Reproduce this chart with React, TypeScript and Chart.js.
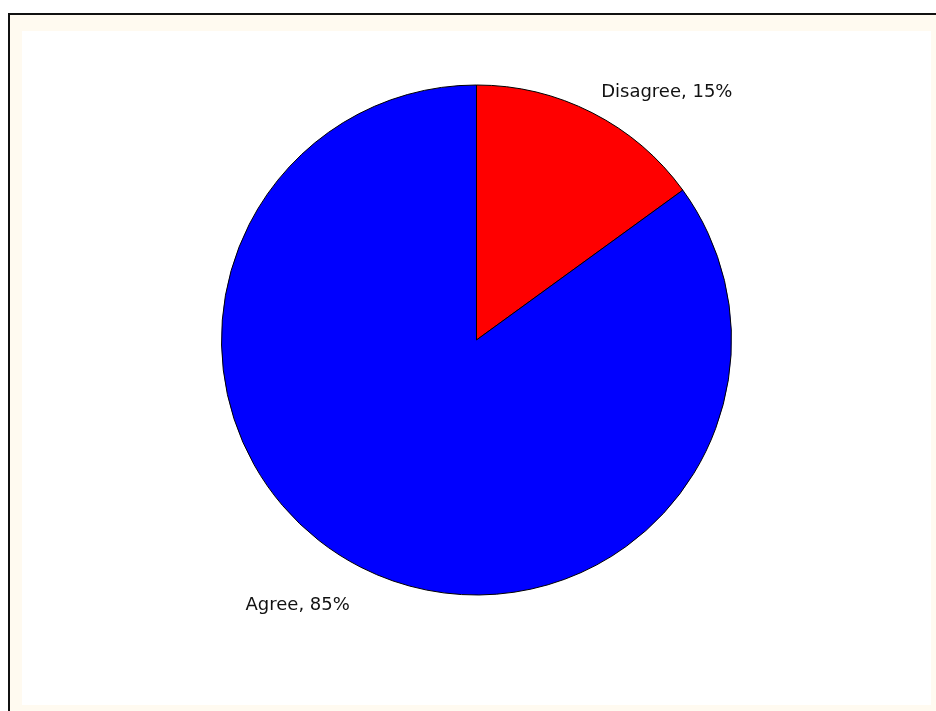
import React, { useEffect, useRef } from "react";
import { Chart, registerables } from "chart.js";

Chart.register(...registerables);

const categories = ["Disagree", "Agree"];
const values = [15, 85];
const sliceColors = ["#FF0000", "#0000FF"];

const labelPlugin = {
  id: "sliceLabels",
  afterDatasetsDraw(chart: any) {
    const ctx = chart.ctx;
    const meta = chart.getDatasetMeta(0);
    const total = values.reduce((a, b) => a + b, 0);
    ctx.save();
    ctx.font = "18px 'DejaVu Sans', Verdana, sans-serif";
    ctx.fillStyle = "#111111";
    ctx.textBaseline = "alphabetic";
    meta.data.forEach((arc: any, i: number) => {
      const { x, y, startAngle, endAngle, outerRadius } = arc.getProps(
        ["x", "y", "startAngle", "endAngle", "outerRadius"],
        true
      );
      const mid = (startAngle + endAngle) / 2;
      const r = outerRadius + 24;
      const ax = x + Math.cos(mid) * r;
      const ay = y + Math.sin(mid) * r;
      const pct = Math.round((values[i] / total) * 100);
      const text = `${categories[i]}, ${pct}%`;
      ctx.textAlign = ax >= x ? "left" : "right";
      const dy = ay < y ? 6 : 21;
      ctx.fillText(text, ax - (ax >= x ? 2 : 0), ay + dy);
    });
    ctx.restore();
  },
};

export default function App() {
  const canvasRef = useRef<HTMLCanvasElement | null>(null);

  useEffect(() => {
    if (!canvasRef.current) return;
    const chart = new Chart(canvasRef.current, {
      type: "pie",
      data: {
        labels: categories,
        datasets: [
          {
            data: values,
            backgroundColor: sliceColors,
            borderColor: "#000000",
            borderWidth: 1,
            radius: 255,
          } as any,
        ],
      },
      options: {
        animation: false,
        responsive: false,
        maintainAspectRatio: false,
        layout: { padding: { bottom: 56 } },
        plugins: {
          legend: { display: false },
          tooltip: { enabled: false },
        },
      },
      plugins: [labelPlugin],
    });
    return () => chart.destroy();
  }, []);

  return (
    <div
      style={{
        position: "absolute",
        left: 0,
        top: 0,
        width: 936,
        height: 711,
        background: "#FFFFFF",
        overflow: "hidden",
      }}
    >
      <div
        style={{
          position: "absolute",
          left: 8,
          top: 13,
          width: 936 - 8,
          height: 711 - 13,
          background: "#FFFAF0",
          borderLeft: "2px solid #111",
          borderTop: "2px solid #111",
          boxSizing: "border-box",
        }}
      />
      <div
        style={{
          position: "absolute",
          left: 22,
          top: 31,
          width: 909,
          height: 674,
          background: "#FFFFFF",
        }}
      >
        <canvas ref={canvasRef} width={909} height={674} style={{ display: "block" }} />
      </div>
    </div>
  );
}
